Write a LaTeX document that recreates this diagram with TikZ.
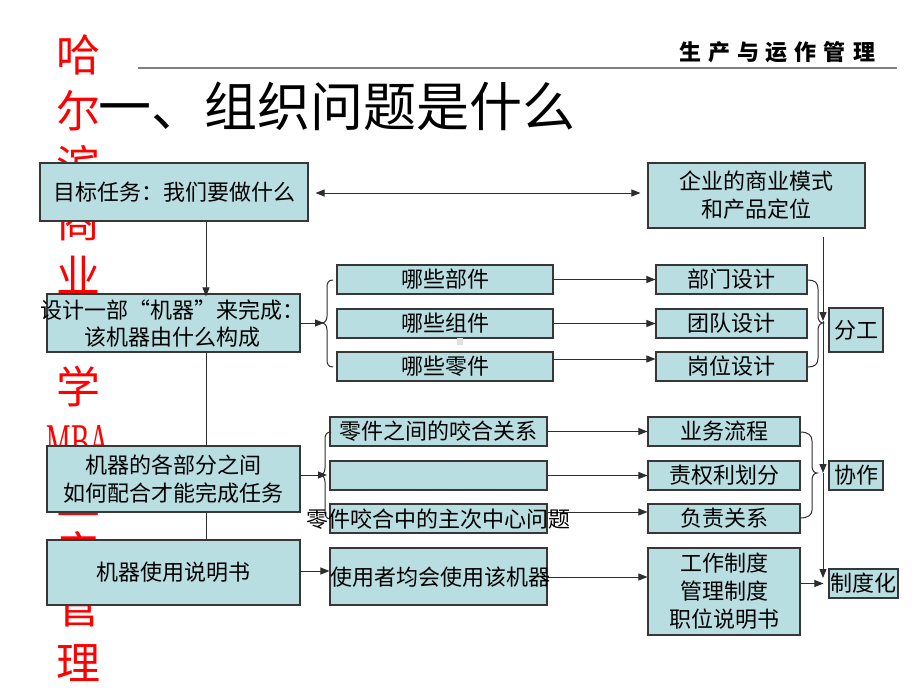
\documentclass[tikz,border=0pt]{standalone}
\usepackage{graphicx}
\usepackage{fontspec}
\setmainfont{Noto Sans CJK SC}
\newfontfamily\serifL{Liberation Serif}
\usetikzlibrary{arrows.meta}
\definecolor{boxfill}{RGB}{185,222,225}
\definecolor{edge}{RGB}{55,55,55}
\definecolor{ln}{RGB}{45,45,45}
\begin{document}
\begin{tikzpicture}[x=1pt,y=-1pt,
  box/.style={draw=edge,fill=boxfill,line width=1.1pt,inner sep=0pt,
    font=\fontsize{22}{28}\selectfont,align=center},
  txt/.style={inner sep=0pt,font=\fontsize{22}{27.5}\selectfont,align=center},
  arr/.style={draw=ln,line width=1pt,-{Triangle[length=9pt,width=7pt]}},
  dbl/.style={draw=ln,line width=1pt,{Triangle[length=9pt,width=7pt]}-{Triangle[length=9pt,width=7pt]}},
  plain/.style={draw=ln,line width=1pt},
  bracepath/.style={draw=ln,line width=1pt},
  redtxt/.style={text=red,font=\fontsize{44}{55.2}\selectfont,inner sep=0pt,align=center}]
\useasboundingbox[fill=white] (0,0) rectangle (920,690);

% red vertical watermark text
\node[redtxt] (side) at (78,358) {哈\\尔\\滨\\商\\业\\大\\学\\{\fontsize{50}{55.2}\selectfont\serifL\scalebox{0.55}[1]{MBA}}\\生\\产\\管\\理};

% header
\coordinate (hl) at (138,68);
\coordinate (hr) at (897,68);
\draw[draw=gray,line width=2pt] (hl) -- (hr);
\node[inner sep=0pt,font=\fontsize{22}{26}\selectfont\bfseries] (hdr) at (777,52)
  {生\hspace{7pt}产\hspace{7pt}与\hspace{7pt}运\hspace{7pt}作\hspace{7pt}管\hspace{7pt}理};

% title
\node[anchor=west,inner sep=0pt,font=\fontsize{53}{60}\selectfont] (title) at (98,106) {一、组织问题是什么};

% left column
\node[box,minimum width=268pt,minimum height=58pt] (A) at (174,192) {目标任务：我们要做什么};
\node[box,minimum width=217pt,minimum height=65pt] (B) at (756.5,195.5) {企业的商业模式\\和产品定位};
\node[box,minimum width=253pt,minimum height=58pt] (C) at (173.5,323) {};
\node[box,minimum width=253pt,minimum height=66pt] (D) at (173.5,479) {机器的各部分之间\\如何配合才能完成任务};
\node[box,minimum width=253pt,minimum height=65pt] (E) at (173.5,572.5) {机器使用说明书};

% middle column
\node[box,minimum width=216pt,minimum height=29pt] (P1) at (445,279.5) {哪些部件};
\node[box,minimum width=216pt,minimum height=29pt] (P2) at (445,323.5) {哪些组件};
\node[box,minimum width=216pt,minimum height=29pt] (P3) at (445,366.5) {哪些零件};
\node[box,minimum width=217pt,minimum height=29pt] (Q1) at (438.5,431.5) {零件之间的咬合关系};
\node[box,minimum width=217pt,minimum height=29pt] (Q2) at (438.5,475.5) {};
\node[box,minimum width=217pt,minimum height=29pt] (Q3) at (438.5,518.5) {};
\node[box,minimum width=217pt,minimum height=57pt] (R) at (438.5,576.5) {};

% right column
\node[box,minimum width=151pt,minimum height=29pt] (S1) at (731.5,279.5) {部门设计};
\node[box,minimum width=151pt,minimum height=29pt] (S2) at (731.5,323.5) {团队设计};
\node[box,minimum width=151pt,minimum height=29pt] (S3) at (731.5,366.5) {岗位设计};
\node[box,minimum width=152pt,minimum height=29pt] (T1) at (724,431.5) {业务流程};
\node[box,minimum width=152pt,minimum height=29pt] (T2) at (724,475.5) {责权利划分};
\node[box,minimum width=152pt,minimum height=29pt] (T3) at (724,518.5) {负责关系};
\node[box,minimum width=152pt,minimum height=87pt] (U) at (724,591.5) {工作制度\\管理制度\\职位说明书};

% far right
\node[box,minimum width=54pt,minimum height=44pt] (F) at (856,330) {分工};
\node[box,minimum width=54pt,minimum height=29pt] (X) at (856,475.5) {协作};
\node[box,minimum width=69pt,minimum height=29pt] (Z) at (863.5,583.5) {制度化};

% small grey mark
\fill[gray!25] (457,338) rectangle (463,345);

% braces
\draw[bracepath] (333,280) .. controls (328,280) and (327,283) .. (327,288) -- (327,316)
  .. controls (327,320) and (325,323) .. (322,323) .. controls (325,323) and (327,326) .. (327,330)
  -- (327,359) .. controls (327,364) and (328,367) .. (333,367);
\draw[bracepath] (331,432) .. controls (326,432) and (325,435) .. (325,440) -- (325,468)
  .. controls (325,472) and (323,475) .. (320,475) .. controls (323,475) and (325,478) .. (325,482)
  -- (325,511) .. controls (325,516) and (326,519) .. (331,519);
\draw[bracepath] (808,280) .. controls (815,280) and (818,283) .. (818,289) -- (818,316)
  .. controls (818,320) and (820,323) .. (823,323) .. controls (820,323) and (818,326) .. (818,330)
  -- (818,358) .. controls (818,364) and (815,367) .. (808,367);
\draw[bracepath] (800,432) .. controls (808,432) and (812,435) .. (812,441) -- (812,466)
  .. controls (812,470) and (814,473) .. (817,473) .. controls (814,473) and (812,476) .. (812,480)
  -- (812,510) .. controls (812,515) and (808,518) .. (800,518);

% coordinates
\coordinate (lx) at (206,0);
\coordinate (brP) at (324,323);
\coordinate (brQ) at (327,475);
\coordinate (vtop) at (823,237);
\coordinate (v1) at (823,321);
\coordinate (v2) at (823,473);
\coordinate (v3) at (823,578);

% connectors
\draw[dbl,shorten <=7pt,shorten >=7pt] (A.east |- 0,193) -- (B.west |- 0,193);
\draw[arr] (A.south -| lx) -- ([yshift=-3pt]C.north -| lx);
\draw[plain] (C.south -| lx) -- (D.north -| lx);
\draw[plain] (D.south -| lx) -- (E.north -| lx);
\draw[arr] (C.east) -- (brP);
\draw[arr] (D.east |- brQ) -- (brQ);
\draw[arr] (E.east |- 0,571) -- (R.west |- 0,571);

\draw[arr] (P1.east) -- (S1.west);
\draw[arr] (P2.east) -- (S2.west);
\draw[arr] ([yshift=7.5pt]P3.east) -- ([yshift=7.5pt]S3.west);
\draw[arr] (Q1.east) -- (T1.west);
\draw[arr] (Q2.east) -- (T2.west);
\draw[arr] ([yshift=6.5pt]Q3.east) -- ([yshift=6.5pt]T3.west);
\draw[arr] (R.east |- 0,577) -- (U.west |- 0,577);

\draw[arr] (vtop) -- (v1);
\draw[arr] (v1) -- (v2);
\draw[arr] (v2) -- (v3);
\draw[arr,shorten >=5pt] (U.east |- Z.west) -- (Z.west);

% overflowing texts
\node[txt] (Ct) at (172,323.5) {设计一部“机器”来完成：\\该机器由什么构成};
\node[txt] (Q3t) at (438.5,519) {零件咬合中的主次中心问题};
\node[txt] (Rt) at (440,577) {使用者均会使用该机器};
\end{tikzpicture}
\end{document}
